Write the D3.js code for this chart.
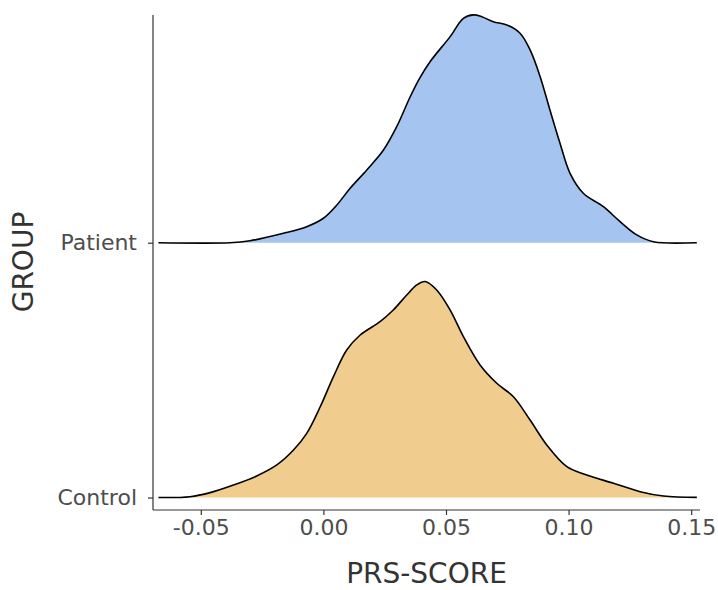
<!DOCTYPE html>
<html>
<head>
<meta charset="utf-8">
<script src="https://cdn.jsdelivr.net/npm/d3@7"></script>
<style>
  html, body { margin: 0; padding: 0; background: #ffffff; }
  svg { display: block; font-family: "DejaVu Sans", sans-serif; }
</style>
</head>
<body>
<svg id="chart" width="718" height="590"></svg>
<script>
// Groups, bottom to top
const groups = ["Control", "Patient"];

// Kernel density estimates of the PRS score for each group
const controlScore = [-0.0673, -0.0544, -0.0462, -0.0367, -0.0272, -0.0190, -0.0122, -0.0068, -0.0013, 0.0041,
  0.0095, 0.0150, 0.0231, 0.0285, 0.0340, 0.0381, 0.0415, 0.0462, 0.0517, 0.0571,
  0.0639, 0.0707, 0.0775, 0.0843, 0.0911, 0.0993, 0.1074, 0.1183, 0.1292, 0.1387, 0.1523];
const controlDensity = [0.00, 0.05, 0.30, 0.77, 1.33, 2.01, 2.93, 3.96, 5.60, 7.46,
  9.10, 10.03, 10.85, 11.57, 12.50, 13.12, 13.33, 12.81, 11.57, 9.93,
  8.18, 7.05, 6.22, 4.78, 3.24, 1.90, 1.39, 0.88, 0.36, 0.09, 0.01];

const patientScore = [-0.0673, -0.0381, -0.0299, -0.0163, -0.0068, 0.0000, 0.0055, 0.0109, 0.0177, 0.0245,
  0.0299, 0.0354, 0.0394, 0.0435, 0.0517, 0.0571, 0.0612, 0.0646, 0.0693, 0.0748,
  0.0802, 0.0843, 0.0884, 0.0924, 0.0965, 0.1006, 0.1060, 0.1142, 0.1210, 0.1278, 0.1346, 0.1523];
const patientDensity = [0.00, 0.00, 0.12, 0.58, 0.99, 1.51, 2.33, 3.36, 4.49, 5.72,
  7.16, 9.01, 10.19, 11.17, 12.72, 13.85, 14.06, 13.95, 13.64, 13.44,
  12.93, 11.90, 10.25, 8.19, 6.14, 4.28, 3.05, 2.22, 1.30, 0.48, 0.06, 0.00];

// Axis ticks
const xTicks = [-0.05, 0.00, 0.05, 0.10, 0.15];
const xTickLabels = ["-0.05", "0.00", "0.05", "0.10", "0.15"];

const fills = { Control: "#f0cd8e", Patient: "#a5c4f0" };

const svg = d3.select("#chart");
const plot = { left: 153, right: 700, top: 15, bottom: 510 };

const x = d3.scaleLinear()
  .domain([-0.0695, 0.1536])
  .range([plot.left, plot.right]);

// Ridge baselines
const y = d3.scalePoint()
  .domain(groups)
  .range([497.5, 242.7]);

const step = y("Control") - y("Patient");
const maxDensity = d3.max(controlDensity.concat(patientDensity));
const h = d3.scaleLinear().domain([0, maxDensity]).range([0, step * 0.894]);

const series = [
  { name: "Patient", score: patientScore, density: patientDensity },
  { name: "Control", score: controlScore, density: controlDensity }
];

const curve = d3.curveCatmullRom.alpha(0.5);

// Draw top ridge first so the lower one sits in front
series.forEach(s => {
  const pts = s.score.map((v, i) => [v, s.density[i]]);
  const base = y(s.name);
  const area = d3.area()
    .x(d => x(d[0]))
    .y0(base)
    .y1(d => Math.min(base, base - h(d[1])))
    .curve(curve);
  const line = d3.line()
    .x(d => x(d[0]))
    .y(d => base - h(d[1]))
    .curve(curve);
  const g = svg.append("g");
  g.append("path").attr("d", area(pts)).attr("fill", fills[s.name]);
  g.append("path").attr("d", line(pts))
    .attr("fill", "none").attr("stroke", "#000").attr("stroke-width", 1.6)
    .attr("stroke-linejoin", "round");
});

// X axis
const xAxis = d3.axisBottom(x)
  .tickValues(xTicks)
  .tickFormat((d, i) => xTickLabels[i])
  .tickSizeInner(5).tickSizeOuter(0).tickPadding(4);
const gx = svg.append("g").attr("transform", `translate(0,${plot.bottom})`).call(xAxis);
gx.select(".domain").attr("d", `M${plot.left},0H${plot.right}`);

// Y axis
const yAxis = d3.axisLeft(y).tickSizeInner(5).tickSizeOuter(0).tickPadding(11);
const gy = svg.append("g").attr("transform", `translate(${plot.left},0)`).call(yAxis);
gy.select(".domain").attr("d", `M0,${plot.top}V${plot.bottom}`);

[gx, gy].forEach(g => {
  g.select(".domain").attr("stroke", "#333").attr("stroke-width", 1.2);
  g.selectAll(".tick line").attr("stroke", "#333").attr("stroke-width", 1.2);
  g.selectAll(".tick text")
    .attr("fill", "#4d4d4d")
    .style("font-size", "22px")
    .style("font-family", "'DejaVu Sans', sans-serif");
});
gx.selectAll(".tick text").attr("dy", "0.71em");

// Axis titles
svg.append("text")
  .attr("x", (plot.left + plot.right) / 2)
  .attr("y", 583)
  .attr("text-anchor", "middle")
  .attr("fill", "#333")
  .style("font-size", "28px")
  .text("PRS-SCORE");

svg.append("text")
  .attr("transform", "translate(33,262) rotate(-90)")
  .attr("text-anchor", "middle")
  .attr("fill", "#333")
  .style("font-size", "28px")
  .text("GROUP");
</script>
</body>
</html>
